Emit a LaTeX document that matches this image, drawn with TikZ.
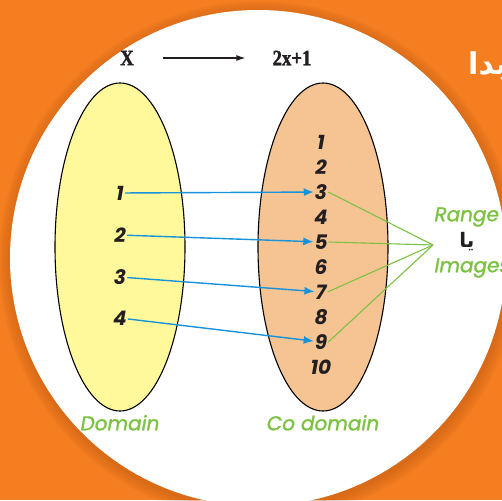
\documentclass[tikz,border=0pt]{standalone}
\usepackage{fontspec}
\setsansfont{Poppins}
\newfontfamily\condfont[FakeStretch=0.85, FakeBold=1.5]{Liberation Serif Bold}
\newfontfamily\lblfont[FakeBold=1.2]{Poppins}
\newfontfamily\arabicfont[Script=Arabic]{DejaVu Sans}
\TeXXeTstate=1
\usetikzlibrary{positioning,arrows.meta,shapes.geometric}
\definecolor{tbg}{HTML}{F47E20}
\definecolor{tshade}{HTML}{B85410}
\definecolor{tyellow}{HTML}{FFF99C}
\definecolor{tpeach}{HTML}{F5C492}
\definecolor{tblue}{HTML}{1693DA}
\definecolor{tgreen}{HTML}{7DC142}
\definecolor{tink}{HTML}{231F20}

\begin{document}
\begin{tikzpicture}[x=1pt, y=-1pt, font=\sffamily,
  setbox/.style={draw, line width=1.1pt, ellipse, minimum width=130pt, minimum height=328pt},
  num/.style={font=\sffamily\bfseries\itshape\fontsize{20}{20}\selectfont, inner sep=1pt, text=tink},
  lbl/.style={font=\lblfont\itshape\fontsize{20}{20}\selectfont, text=tgreen},
  head/.style={font=\condfont\fontsize{22}{22}\selectfont, inner sep=0pt, text=tink},
  maparr/.style={-{Latex[length=10pt, width=8pt]}, tblue, line width=1.4pt},
  rng/.style={tgreen, line width=1.1pt}]
\useasboundingbox (0,0) rectangle (502,500);
\clip (0,0) rectangle (502,500);
\fill[tbg] (0,0) rectangle (502,500);
% soft shadow round the disc
\foreach \k in {1,...,8}
  \fill[tshade, opacity=0.06] (259,261) circle[radius=248+1.5*\k];
\fill[white] (258,258) circle[radius=248];
% title, cut by the page edge
\node[font=\arabicfont\bfseries\fontsize{30}{30}\selectfont, text=white, anchor=base west, inner sep=0pt] (title) at (468,75) {\beginR مبدا\endR};
% rule
\node[head] (x) at (127,58) {X};
\node[head] (fx) at (292,58) {2x+1};
\draw[-{Latex[length=9pt, width=6pt]}, line width=1.2pt, tink, shorten <=29pt, shorten >=27pt] (x) -- (fx);
% the two sets
\node[setbox, fill=tyellow] (dom) at (120,247) {};
\node[setbox, fill=tpeach] (cod) at (323,247) {};
\foreach \n/\y in {1/193,2/235,3/277,4/318}
  \node[num] (d\n) at (120,\y) {\n};
\foreach \n in {1,...,10}
  \node[num] (c\n) at (321,{117+25*\n}) {\n};
\foreach \a/\b in {1/3,2/5,3/7,4/9}
  \draw[maparr] (d\a) -- (c\b);
\node[lbl, below=0pt of dom] (domlbl) {Domain};
\node[lbl, below=0pt of cod] (codlbl) {Co domain};
% range
\coordinate (img) at (433,245);
\foreach \b in {3,5,7,9}
  \draw[rng] (c\b.east) -- (img);
\node[font=\arabicfont\bfseries\fontsize{20}{20}\selectfont, text=tink, inner sep=0pt] (ya) at (467,242) {\beginR یا\endR};
\node[lbl, anchor=west] (range) at (431,217) {Range};
\node[lbl, anchor=west] (image) at (431,268) {Images};
\end{tikzpicture}
\end{document}
